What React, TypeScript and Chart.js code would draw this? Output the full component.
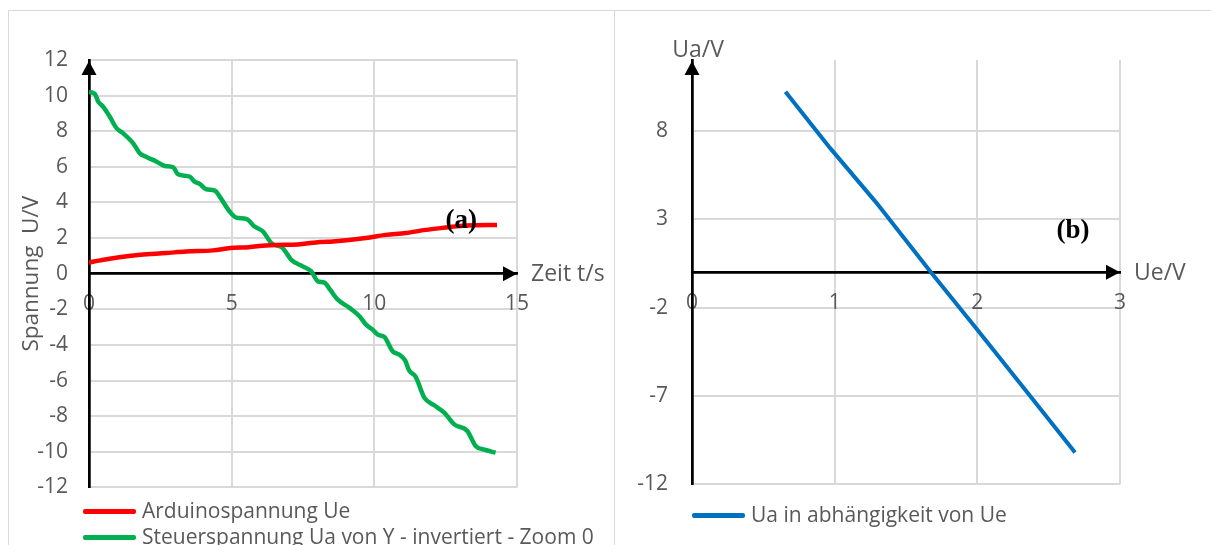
import { useEffect, useRef } from "react";
import { Chart, registerables } from "chart.js";

Chart.register(...registerables);

// (a) Zeitverlauf der beiden Spannungen
const redTime = [0, 0.4, 1.0, 1.8, 2.7, 3.4, 4.35, 4.95, 5.6, 6.2, 6.8, 7.4, 8.1, 8.55, 9.7, 10.4, 11.1, 11.8, 12.5, 13.2, 14.3];
const redVolt = [0.63, 0.75, 0.91, 1.06, 1.16, 1.25, 1.31, 1.44, 1.49, 1.59, 1.62, 1.66, 1.78, 1.81, 2.0, 2.18, 2.28, 2.46, 2.59, 2.71, 2.74];

const greenTime = [
  0, 0.2, 0.33, 0.5, 0.73, 0.97, 1.2, 1.55, 1.78, 2.0, 2.37, 2.66, 2.95, 3.12, 3.53, 3.7, 3.88, 4.11,
  4.41, 4.58, 4.93, 5.16, 5.51, 5.8, 6.1, 6.39, 6.79, 7.09, 7.49, 7.79, 8.02, 8.25, 8.45, 8.72, 9.13,
  9.48, 9.71, 9.94, 10.12, 10.35, 10.64, 10.87, 11.08, 11.22, 11.45, 11.75, 12.1, 12.45, 12.8, 13.26,
  13.55, 13.9, 14.25,
];
const greenVolt = [
  10.21, 10.1, 9.65, 9.37, 8.81, 8.16, 7.88, 7.32, 6.76, 6.57, 6.29, 6.05, 5.98, 5.58, 5.45, 5.17, 5.04,
  4.74, 4.67, 4.33, 3.49, 3.15, 3.08, 2.65, 2.37, 1.72, 1.44, 0.78, 0.41, 0.13, -0.43, -0.5, -0.9, -1.46,
  -1.92, -2.39, -2.86, -3.14, -3.42, -3.55, -4.35, -4.54, -4.87, -5.43, -5.79, -6.96, -7.39, -7.8, -8.46,
  -8.83, -9.67, -9.9, -10.05,
];

const timeTicks = [0, 5, 10, 15];
const voltTicks = [-12, -10, -8, -6, -4, -2, 0, 2, 4, 6, 8, 10, 12];

// (b) Kennlinie Ua über Ue
const ueValues = [0.655, 0.97, 1.29, 1.676, 2.0, 2.38, 2.685];
const uaValues = [10.2, 7.0, 3.95, -0.02, -3.25, -7.1, -10.19];

const ueTicks = [0, 1, 2, 3];
const uaTicks = [-12, -7, -2, 3, 8];

const FONT = '"Open Sans", sans-serif';
const TEXT = "#595959";
const GRID = "#d9d9d9";

type Decor = { xTitle: string; yTitle?: string; tag: string; tagX: number; tagY: number };

function axisDecor(d: Decor) {
  return {
    id: "axisDecor",
    afterDraw(chart: any) {
      const { ctx, chartArea } = chart;
      const { left, right, top } = chartArea;
      const y0 = chart.scales.y.getPixelForValue(0);
      ctx.save();
      ctx.fillStyle = "#000";
      // arrow heads on both axes
      ctx.beginPath();
      ctx.moveTo(left, top + 1);
      ctx.lineTo(left - 7.5, top + 15);
      ctx.lineTo(left + 7.5, top + 15);
      ctx.closePath();
      ctx.fill();
      ctx.beginPath();
      ctx.moveTo(right, y0);
      ctx.lineTo(right - 14, y0 - 7.5);
      ctx.lineTo(right - 14, y0 + 7.5);
      ctx.closePath();
      ctx.fill();

      ctx.font = `23px ${FONT}`;
      ctx.fillStyle = TEXT;
      ctx.textBaseline = "middle";
      ctx.textAlign = "left";
      ctx.fillText(d.xTitle, right + 14, y0 + 1);
      if (d.yTitle) {
        ctx.textAlign = "center";
        ctx.fillText(d.yTitle, left + 6, top - 10);
      }

      ctx.font = `bold 27px "Liberation Serif", "Times New Roman", serif`;
      ctx.fillStyle = "#000";
      ctx.textAlign = "center";
      ctx.fillText(d.tag, chart.scales.x.getPixelForValue(d.tagX), chart.scales.y.getPixelForValue(d.tagY));
      ctx.restore();
    },
  };
}

function linearAxis(ticks: number[], pad: number) {
  return {
    type: "linear",
    afterBuildTicks: (scale: any) => {
      scale.ticks = ticks.map((value) => ({ value }));
    },
    grid: { color: GRID, lineWidth: 2, drawTicks: false },
    border: { color: "#000", width: 2.75 },
    ticks: { padding: pad, color: TEXT, font: { family: FONT, size: 21 }, autoSkip: false, maxRotation: 0 },
  };
}

function TimeChart() {
  const ref = useRef<HTMLCanvasElement>(null);
  useEffect(() => {
    const chart = new Chart(ref.current!, {
      type: "line",
      data: {
        datasets: [
          {
            label: "Arduinospannung Ue",
            data: redTime.map((t, i) => ({ x: t, y: redVolt[i] })),
            borderColor: "#ff0000",
            borderWidth: 4.5,
            pointRadius: 0,
            cubicInterpolationMode: "monotone",
          },
          {
            label: "Steuerspannung Ua von Y - invertiert - Zoom 0",
            data: greenTime.map((t, i) => ({ x: t, y: greenVolt[i] })),
            borderColor: "#00b050",
            borderWidth: 4.5,
            pointRadius: 0,
            cubicInterpolationMode: "monotone",
          },
        ],
      },
      options: {
        animation: false,
        responsive: false,
        layout: { padding: { left: 0, top: 50, right: 97, bottom: 12 } },
        plugins: { legend: { display: false }, tooltip: { enabled: false } },
        scales: {
          x: { ...linearAxis(timeTicks, 18), min: 0, max: 15, position: { y: 0 } },
          y: {
            ...linearAxis(voltTicks, 21),
            min: -12,
            max: 12,
            position: "left",
            afterFit: (s: any) => {
              s.width = 81;
            },
            title: {
              display: true,
              text: "Spannung  U/V",
              color: TEXT,
              font: { family: FONT, size: 22.5 },
              padding: { top: 10, bottom: 0 },
            },
          },
        },
      } as any,
      plugins: [axisDecor({ xTitle: "Zeit t/s", tag: "(a)", tagX: 13.05, tagY: 2.95 })],
    });
    return () => chart.destroy();
  }, []);
  return <canvas ref={ref} width={606} height={511} style={{ position: "absolute", left: 8, top: 10, width: 606, height: 511 }} />;
}

function CurveChart() {
  const ref = useRef<HTMLCanvasElement>(null);
  useEffect(() => {
    const chart = new Chart(ref.current!, {
      type: "line",
      data: {
        datasets: [
          {
            label: "Ua in abhängigkeit von Ue",
            data: ueValues.map((u, i) => ({ x: u, y: uaValues[i] })),
            borderColor: "#0070c0",
            borderWidth: 4,
            pointRadius: 0,
            tension: 0,
          },
        ],
      },
      options: {
        animation: false,
        responsive: false,
        layout: { padding: { left: 0, top: 50, right: 91, bottom: 12 } },
        plugins: { legend: { display: false }, tooltip: { enabled: false } },
        scales: {
          x: { ...linearAxis(ueTicks, 18), min: 0, max: 3, position: { y: 0 } },
          y: {
            ...linearAxis(uaTicks, 24),
            min: -12,
            max: 12,
            position: "left",
            afterFit: (s: any) => {
              s.width = 78;
            },
          },
        },
      } as any,
      plugins: [axisDecor({ xTitle: "Ue/V", yTitle: "Ua/V", tag: "(b)", tagX: 2.67, tagY: 2.3 })],
    });
    return () => chart.destroy();
  }, []);
  return <canvas ref={ref} width={597} height={511} style={{ position: "absolute", left: 614, top: 10, width: 597, height: 511 }} />;
}

const legendText: React.CSSProperties = {
  position: "absolute",
  font: `21px ${FONT}`,
  color: TEXT,
  whiteSpace: "nowrap",
  lineHeight: "26px",
};

function LegendRow({ x, y, color, text }: { x: number; y: number; color: string; text: string }) {
  return (
    <>
      <div style={{ position: "absolute", left: x, top: y - 2, width: 53, height: 4.5, background: color, borderRadius: 2 }} />
      <div style={{ ...legendText, left: x + 59, top: y - 14 }}>{text}</div>
    </>
  );
}

export default function App() {
  return (
    <div style={{ position: "fixed", left: 0, top: 0, width: 1211, height: 545, overflow: "hidden", background: "#fff" }}>
      <div style={{ position: "absolute", left: 8, top: 10, width: 607, height: 600, boxSizing: "border-box", border: "1px solid #d9d9d9" }} />
      <div style={{ position: "absolute", left: 614, top: 10, width: 700, height: 600, boxSizing: "border-box", borderTop: "1px solid #d9d9d9" }} />
      <TimeChart />
      <CurveChart />
      <LegendRow x={83} y={511} color="#ff0000" text="Arduinospannung Ue" />
      <LegendRow x={83} y={537} color="#00b050" text="Steuerspannung Ua von Y - invertiert - Zoom 0" />
      <LegendRow x={692} y={515} color="#0070c0" text="Ua in abhängigkeit von Ue" />
    </div>
  );
}
